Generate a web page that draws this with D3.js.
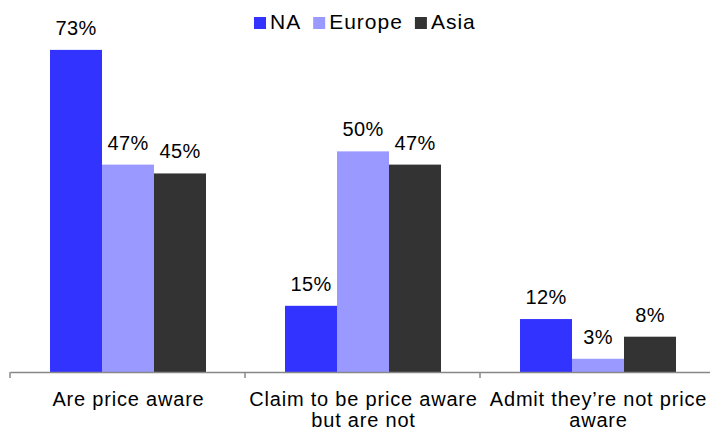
<!DOCTYPE html>
<html>
<head>
<meta charset="utf-8">
<script src="https://cdn.jsdelivr.net/npm/d3@7"></script>
<style>
  body { margin: 0; background: #fff; }
  svg { display: block; font-family: 'Liberation Sans', Arial, sans-serif; }
</style>
</head>
<body>
<div id="chart"></div>
<script>
const categories = [
  ['Are price aware'],
  ['Claim to be price aware', 'but are not'],
  ['Admit they\u2019re not price', 'aware'],
];
const seriesNames = ['NA', 'Europe', 'Asia'];
const seriesColors = ['#3333ff', '#9999ff', '#333333'];
const naValues = [73, 15, 12];
const europeValues = [47, 50, 3];
const asiaValues = [45, 47, 8];

const width = 710;
const height = 430;
const baseline = 372;

const rows = categories.map((c, i) => ({
  id: i,
  label: c,
  values: [naValues[i], europeValues[i], asiaValues[i]],
}));

const svg = d3.select('#chart').append('svg')
  .attr('width', width)
  .attr('height', height);

const x0 = d3.scaleBand()
  .domain(rows.map(d => d.id))
  .range([10, 715])
  .padding(0);

const x1 = d3.scaleBand()
  .domain(seriesNames)
  .range([40, x0.bandwidth() - 39]);

const y = d3.scaleLinear()
  .domain([0, 80])
  .range([baseline, 19]);

// bars
const group = svg.selectAll('.group')
  .data(rows)
  .enter().append('g')
  .attr('class', 'group')
  .attr('transform', d => `translate(${x0(d.id)},0)`);

group.selectAll('rect')
  .data(d => d.values.map((v, i) => ({ v, i })))
  .enter().append('rect')
  .attr('x', d => x1(seriesNames[d.i]))
  .attr('y', d => y(d.v))
  .attr('width', x1.bandwidth())
  .attr('height', d => baseline - y(d.v))
  .style('fill', d => seriesColors[d.i]);

group.selectAll('.val')
  .data(d => d.values.map((v, i) => ({ v, i })))
  .enter().append('text')
  .attr('class', 'val')
  .attr('x', d => x1(seriesNames[d.i]) + x1.bandwidth() / 2)
  .attr('y', d => y(d.v) - 15)
  .style('text-anchor', 'middle')
  .style('font-size', '20px')
  .style('letter-spacing', '0.3px')
  .style('fill', '#000')
  .text(d => `${d.v}%`);

// axis
const xAxis = d3.axisBottom(x0)
  .tickSizeInner(0)
  .tickSizeOuter(0)
  .tickFormat('');

const xAx = svg.append('g')
  .attr('class', 'x axis')
  .attr('transform', `translate(0,${baseline})`)
  .call(xAxis);

xAx.select('.domain')
  .style('stroke', '#888')
  .style('stroke-width', 1.5);
xAx.selectAll('.tick').remove();

xAx.selectAll('.sep')
  .data(d3.range(rows.length + 1))
  .enter().append('line')
  .attr('class', 'sep')
  .attr('x1', i => 10 + i * x0.step())
  .attr('x2', i => 10 + i * x0.step())
  .attr('y1', 0)
  .attr('y2', 6)
  .style('stroke', '#888')
  .style('stroke-width', 1.5);

// category labels
const lab = svg.selectAll('.cat')
  .data(rows)
  .enter().append('text')
  .attr('class', 'cat')
  .attr('x', d => x0(d.id) + x0.bandwidth() / 2 + 1)
  .attr('y', 406)
  .style('text-anchor', 'middle')
  .style('font-size', '20px')
  .style('letter-spacing', '0.8px')
  .style('fill', '#000');

lab.selectAll('tspan')
  .data(d => d.label)
  .enter().append('tspan')
  .attr('x', function () { return d3.select(this.parentNode).attr('x'); })
  .attr('dy', (d, i) => (i === 0 ? 0 : 21))
  .text(d => d);

// legend
const legend = svg.append('g').attr('class', 'legend');
let lx = 254;
seriesNames.forEach((name, i) => {
  legend.append('rect')
    .attr('x', lx)
    .attr('y', 17)
    .attr('width', 12)
    .attr('height', 12)
    .style('fill', seriesColors[i]);
  const t = legend.append('text')
    .attr('x', lx + 16)
    .attr('y', 29)
    .style('font-size', '21px')
    .style('letter-spacing', '1px')
    .style('fill', '#000')
    .text(name);
  lx += 16 + t.node().getComputedTextLength() + 12;
});
</script>
</body>
</html>
